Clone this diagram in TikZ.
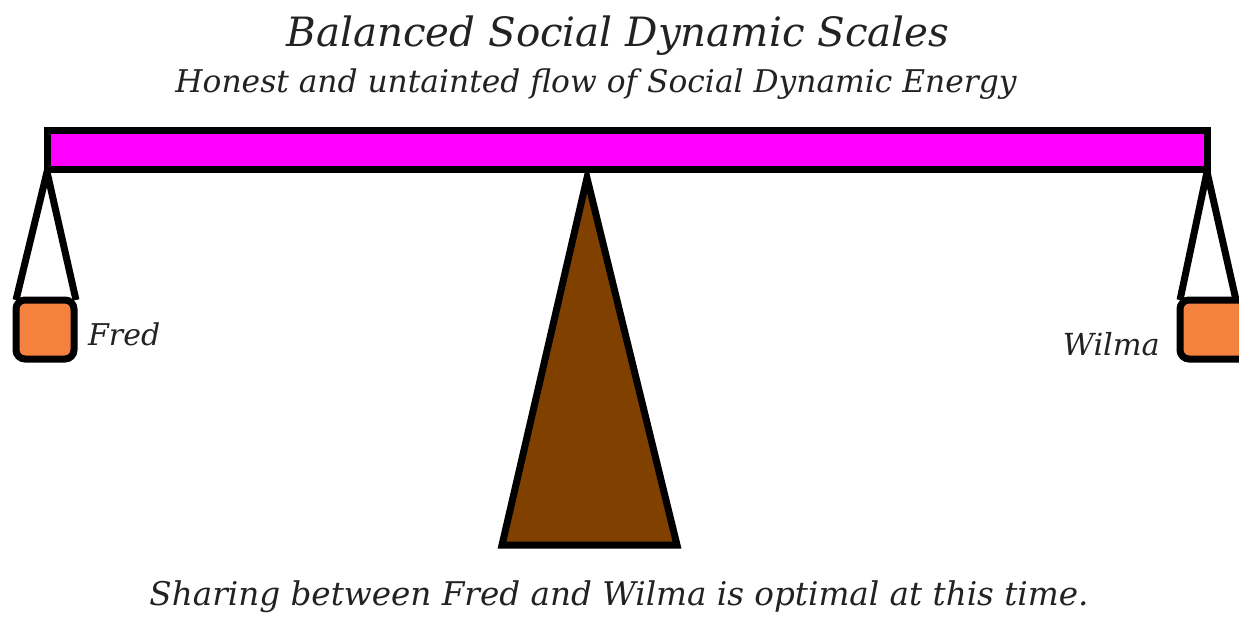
\documentclass[tikz,border=0pt]{standalone}
\usepackage{fontspec}
\setmainfont{DejaVu Serif}
\definecolor{beam}{HTML}{FF00FF}
\definecolor{weight}{HTML}{F5813F}
\definecolor{fulcrum}{HTML}{804000}
\definecolor{ink}{HTML}{222222}
\tikzset{
  thick line/.style={line width=7pt, draw=black},
  label text/.style={inner sep=0pt, font=\itshape, text=ink},
  weightbox/.style={thick line, fill=weight, rounded corners=9pt},
}
\begin{document}
\begin{tikzpicture}[x=1pt,y=-1pt]
\useasboundingbox[fill=white] (0,0) rectangle (1239,616);
% fulcrum
\draw[thick line, fill=fulcrum, line join=miter] (587,178) -- (677,545) -- (502,545) -- cycle;
% left hanger
\draw[thick line, line join=miter] (16,300) -- (47,172) -- (76,300);
\draw[weightbox] (16,300) rectangle (74,359);
% right hanger
\draw[thick line, line join=miter] (1180,300) -- (1207,172) -- (1236,300);
\draw[weightbox] (1180,300) rectangle (1250,359);
% beam
\draw[thick line, fill=beam] (47,130) rectangle (1207,169);
% texts
\node[label text, anchor=base] (title) at (618,46) {\resizebox{663pt}{!}{Balanced Social Dynamic Scales}};
\node[label text, anchor=base] (sub) at (596,92) {\resizebox{841pt}{!}{Honest and untainted flow of Social Dynamic Energy}};
\node[label text, anchor=base west] (fred) at (88,345) {\resizebox{72pt}{!}{Fred}};
\node[label text, anchor=base east] (wilma) at (1160,355) {\resizebox{97pt}{!}{Wilma}};
\node[label text, anchor=base] (bottom) at (619,605) {\resizebox{939pt}{!}{Sharing between Fred and Wilma is optimal at this time.}};
\end{tikzpicture}
\end{document}
